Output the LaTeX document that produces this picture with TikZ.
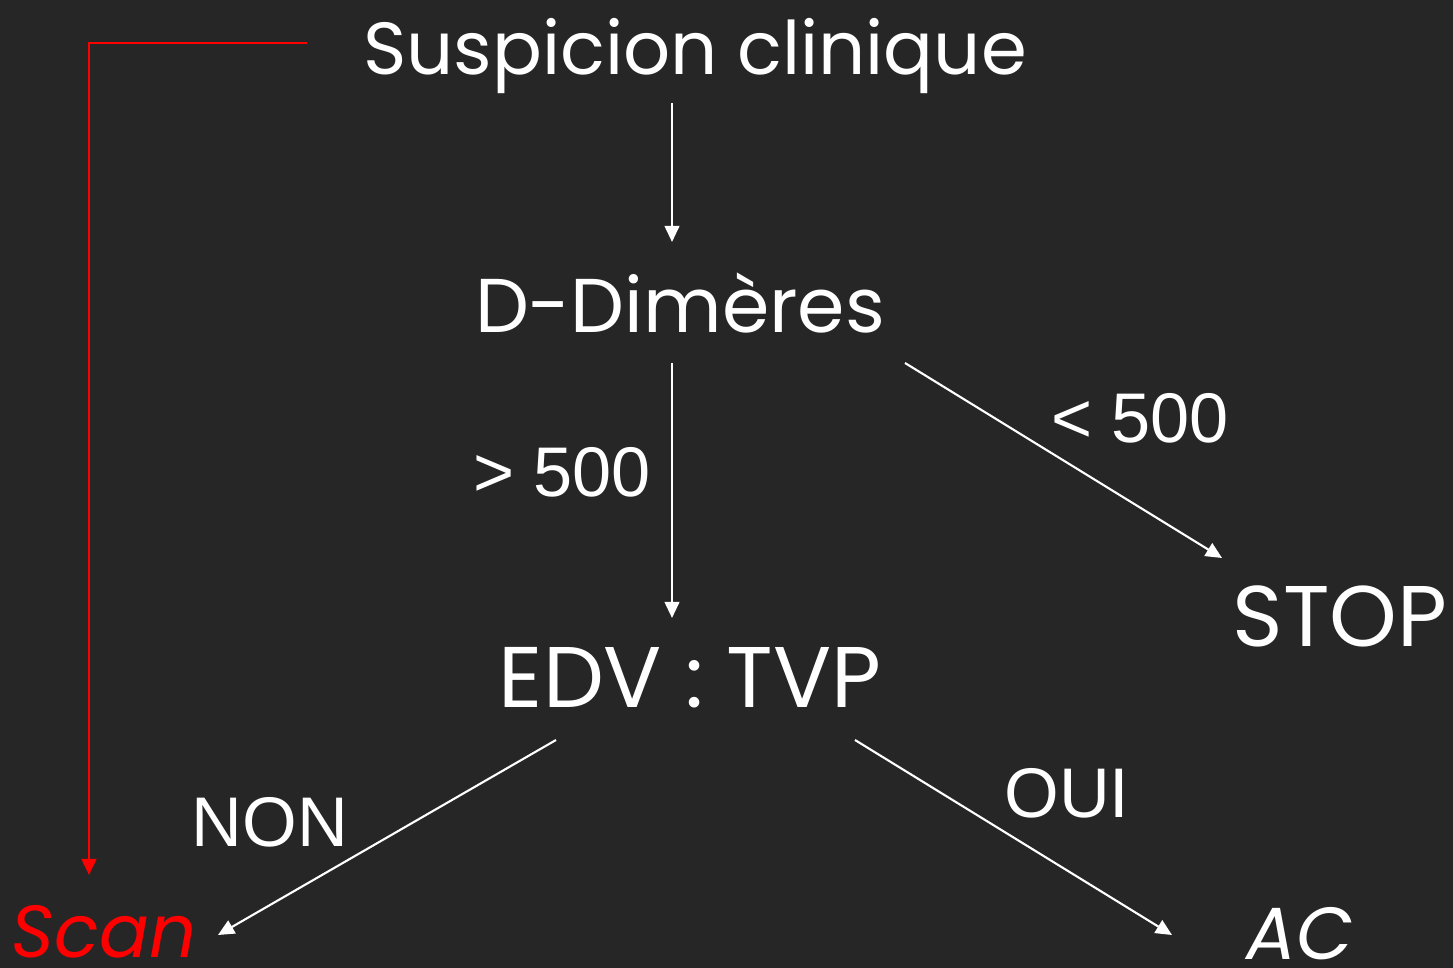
\documentclass[tikz,border=0pt]{standalone}
\usepackage{fontspec}
\setmainfont{Liberation Sans}
\newfontfamily\handfont{Poppins}
\usetikzlibrary{arrows.meta, calc}
\definecolor{bgdark}{RGB}{38, 38, 38}
\definecolor{alarm}{RGB}{255, 0, 0}

\begin{document}
\begin{tikzpicture}[
            step box/.style={inner sep=0pt, anchor=base, text=white, font=\handfont\fontsize{21}{24}\selectfont},
            big step/.style={step box, font=\handfont\fontsize{24.5}{28}\selectfont},
            cond/.style={inner sep=0pt, anchor=base, text=white, font=\fontsize{20}{24}\selectfont},
            arr/.style={draw=white, line width=0.6pt, -{Triangle[length=4.6pt, width=4.2pt]}}
        ]
            \fill[bgdark] (0,0) rectangle (14.53,9.68);
            \useasboundingbox (0,0) rectangle (14.53,9.68);
            % steps
            \node[step box] (susp) at (6.95,8.93) {Suspicion clinique};
            \node[step box, font=\handfont\fontsize{21.7}{25}\selectfont] (ddim) at (6.80,6.35) {D-Dimères};
            \node[big step] (edv) at (6.90,2.60) {EDV : TVP};
            \node[big step] (stop) at (13.40,3.21) {STOP};
            \node[step box, text=alarm, font=\handfont\itshape\fontsize{21}{24}\selectfont] (scan) at (1.04,0.10) {Scan};
            \node[step box, font=\handfont\itshape\fontsize{21}{24}\selectfont] (ac) at (13.00,0.08) {AC};
            % conditions
            \node[cond] (gt) at (5.62,4.71) {> 500};
            \node[cond] (lt) at (11.40,5.25) {< 500};
            \node[cond] (non) at (2.70,1.21) {NON};
            \node[cond] (oui) at (10.67,1.50) {OUI};
            % arrows
            \draw[arr] ([shift={(-0.23,-0.28)}]susp.base) -- ([shift={(-0.08,0.91)}]ddim.base);
            \draw[arr] ([shift={(-0.08,-0.30)}]ddim.base) -- ([shift={(-0.18,0.90)}]edv.base);
            \draw[arr] ([shift={(2.25,-0.30)}]ddim.base) -- ([shift={(-1.18,0.89)}]stop.base);
            \draw[arr] ([shift={(-1.34,-0.32)}]edv.base) -- ([shift={(1.14,0.23)}]scan.base);
            \draw[arr] ([shift={(1.65,-0.32)}]edv.base) -- ([shift={(-1.28,0.25)}]ac.base);
            \draw[arr, draw=alarm, line width=0.8pt] ([shift={(-3.88,0.32)}]susp.base) -| ([shift={(-0.15,0.83)}]scan.base);
        \end{tikzpicture}
\end{document}
